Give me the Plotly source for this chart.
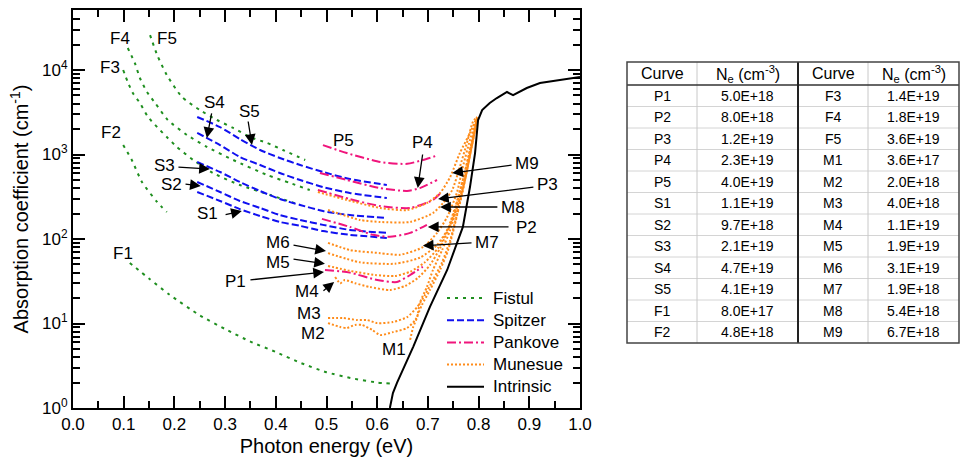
import math
import plotly.graph_objects as go

W, H = 962, 461
FONT = "Arial, 'Liberation Sans', sans-serif"

GREEN = "#1f8f1f"
BLUE = "#1010f0"
PINK = "#f0157c"
ORANGE = "#ff8c1a"

# ---------------- Fistul (photon energy eV, absorption cm^-1) ----------------
F1_E = [0.112, 0.15, 0.19, 0.25, 0.30, 0.35, 0.40, 0.45, 0.50, 0.55, 0.60, 0.625]
F1_a = [52, 34, 22, 12.5, 8.6, 6.1, 4.6, 3.4, 2.65, 2.25, 2.0, 1.95]
F2_E = [0.099, 0.116, 0.136, 0.166, 0.185]
F2_a = [1295, 861, 473, 274, 209]
F3_E = [0.099, 0.108, 0.118, 0.132, 0.148, 0.166, 0.185, 0.205, 0.237, 0.276, 0.329, 0.389, 0.448]
F3_a = [10000, 7210, 5340, 4070, 2780, 2110, 1610, 1230, 861, 604, 436, 332, 253]
F4_E = [0.108, 0.122, 0.132, 0.146, 0.162, 0.187, 0.225, 0.264, 0.316, 0.383, 0.428, 0.467]
F4_a = [18200, 12100, 8040, 5490, 4070, 2560, 1700, 1230, 861, 572, 460, 380]
F5_E = [0.152, 0.166, 0.185, 0.215, 0.25, 0.284, 0.316, 0.349, 0.383, 0.414, 0.458]
F5_a = [25900, 15060, 8730, 4790, 3360, 2560, 2060, 1610, 1370, 1130, 861]

# ---------------- Spitzer ----------------
S_E = [0.245, 0.29, 0.329, 0.369, 0.408, 0.448, 0.493, 0.546, 0.619]
S1_a = [360, 282, 226, 187, 159, 143, 124, 112, 103]
S2_a = [473, 360, 282, 233, 192, 168, 147, 128, 118]
S3_a = [815, 621, 473, 370, 297, 253, 214, 192, 177]
S4_a = [1800, 1295, 934, 751, 604, 499, 412, 350, 305]
S5_a = [2780, 2110, 1525, 1130, 910, 751, 621, 513, 436]

# ---------------- Pankove ----------------
P1_E = [0.497, 0.546, 0.60, 0.639, 0.665, 0.69]
P1_a = [43, 40, 32.7, 31, 37.5, 47]
P2_E = [0.491, 0.546, 0.592, 0.625, 0.665, 0.698]
P2_a = [173, 139, 112, 106, 118, 147]
P3_E = [0.483, 0.546, 0.606, 0.665, 0.71, 0.724]
P3_a = [380, 297, 245, 233, 290, 345]
P4_E = [0.487, 0.54, 0.606, 0.659, 0.684, 0.718]
P4_a = [604, 500, 400, 370, 400, 499]
P5_E = [0.493, 0.54, 0.606, 0.659, 0.69, 0.72]
P5_a = [1290, 1040, 815, 775, 860, 980]

# ---------------- Munesue ----------------
M1_E = [0.665, 0.671, 0.679, 0.684, 0.698, 0.71, 0.728, 0.744, 0.759, 0.773, 0.785, 0.795, 0.797]
M1_a = [6.4, 9.1, 11.9, 17.5, 27, 43, 74, 128, 253, 499, 1130, 2200, 2700]
M2_E = [0.503, 0.527, 0.54, 0.556, 0.57, 0.59, 0.606, 0.631, 0.659, 0.675, 0.688, 0.704,
        0.724, 0.74, 0.753, 0.767, 0.779, 0.789, 0.797]
M2_a = [10.1, 9.1, 8.85, 9.6, 9.6, 8.4, 7.3, 7.9, 8.85, 11, 16.5, 24.9, 43, 74, 147, 332,
        751, 1570, 2700]
M3_E = [0.503, 0.533, 0.56, 0.58, 0.60, 0.631, 0.659, 0.679, 0.694, 0.71, 0.728, 0.744,
        0.757, 0.771, 0.783, 0.793, 0.797]
M3_a = [11.6, 11.6, 11, 11, 10.1, 10.4, 11.9, 15.7, 21.7, 32.7, 53, 97, 192, 436, 986, 1950, 2700]
M4_E = [0.517, 0.527, 0.536, 0.556, 0.586, 0.625, 0.655, 0.68, 0.704, 0.724, 0.744, 0.759,
        0.773, 0.785, 0.797]
M4_a = [35.5, 30, 32.7, 30, 27, 24.9, 27.8, 34.5, 49, 78, 147, 290, 620, 1295, 2700]
M5_E = [0.503, 0.546, 0.596, 0.635, 0.665, 0.694, 0.72, 0.74, 0.755, 0.769, 0.783, 0.797]
M5_a = [48, 42, 37.5, 36.5, 41, 53, 78, 135, 253, 499, 1130, 2700]
M6_E = [0.503, 0.566, 0.635, 0.684, 0.718, 0.744, 0.759, 0.773, 0.785, 0.797]
M6_a = [68, 53, 51, 60, 85, 147, 253, 499, 1130, 2700]
M7_E = [0.503, 0.546, 0.606, 0.645, 0.69, 0.718, 0.738, 0.757, 0.769, 0.783, 0.797]
M7_a = [90, 74, 68, 65, 80, 118, 182, 350, 711, 1490, 2700]
M8_E = [0.503, 0.566, 0.606, 0.665, 0.71, 0.73, 0.748, 0.763, 0.777, 0.789, 0.797]
M8_a = [220, 168, 159, 159, 203, 267, 380, 711, 1370, 2450, 2780]
M9_E = [0.483, 0.54, 0.606, 0.659, 0.698, 0.724, 0.744, 0.763, 0.783, 0.797]
M9_a = [360, 290, 233, 220, 267, 350, 542, 1040, 1800, 2780]

# ---------------- Intrinsic ----------------
INT_E = [0.625, 0.631, 0.639, 0.671, 0.704, 0.738, 0.769, 0.783, 0.793, 0.799, 0.807,
         0.822, 0.836, 0.856, 0.868, 0.895, 0.921, 0.961, 1.0]
INT_a = [1.0, 1.5, 1.98, 5.3, 15.7, 43, 139, 412, 1040, 2560, 3360, 4070, 4660, 5490,
         5030, 6120, 7020, 7600, 8270]

# ---------------- table of carrier densities ----------------
tbl_header = ["Curve", "N<sub>e</sub> (cm<sup>-3</sup>)", "Curve", "N<sub>e</sub> (cm<sup>-3</sup>)"]
tbl_curve_left = ["P1", "P2", "P3", "P4", "P5", "S1", "S2", "S3", "S4", "S5", "F1", "F2"]
tbl_ne_left = ["5.0E+18", "8.0E+18", "1.2E+19", "2.3E+19", "4.0E+19", "1.1E+19",
               "9.7E+18", "2.1E+19", "4.7E+19", "4.1E+19", "8.0E+17", "4.8E+18"]
tbl_curve_right = ["F3", "F4", "F5", "M1", "M2", "M3", "M4", "M5", "M6", "M7", "M8", "M9"]
tbl_ne_right = ["1.4E+19", "1.8E+19", "3.6E+19", "3.6E+17", "2.0E+18", "4.0E+18",
                "1.1E+19", "1.9E+19", "3.1E+19", "1.9E+18", "5.4E+18", "6.7E+18"]

# legend entries
legend_names = ["Fistul", "Spitzer", "Pankove", "Munesue", "Intrinsic"]

# axis ticks
x_ticks = [0.0, 0.1, 0.2, 0.3, 0.4, 0.5, 0.6, 0.7, 0.8, 0.9, 1.0]
y_ticks = [1, 10, 100, 1000, 10000]
y_ticktext = ["10<sup>0</sup>", "10<sup>1</sup>", "10<sup>2</sup>", "10<sup>3</sup>", "10<sup>4</sup>"]
y_minor = [k * 10 ** d for d in range(0, 5) for k in range(2, 10)]

# curve labels: (text, energy, absorption)
labels = [
    ("F4", 0.093, 23900), ("F5", 0.185, 23900), ("F3", 0.073, 10560), ("F2", 0.075, 1845),
    ("F1", 0.099, 68), ("S4", 0.28, 4180), ("S5", 0.349, 3270), ("S3", 0.181, 751),
    ("S2", 0.195, 436), ("S1", 0.266, 203), ("P5", 0.533, 1445), ("P4", 0.69, 1370),
    ("M9", 0.895, 793), ("P3", 0.935, 436), ("M8", 0.868, 239), ("P2", 0.895, 135),
    ("M7", 0.817, 90), ("M6", 0.404, 90), ("M5", 0.404, 53), ("P1", 0.32, 31),
    ("M4", 0.462, 24.2), ("M3", 0.465, 13.3), ("M2", 0.473, 7.7), ("M1", 0.633, 4.86),
]
# pointer arrows: (tail energy, tail absorption, tip energy, tip absorption)
arrows = [
    (0.274, 3185, 0.264, 1567), (0.345, 2560, 0.353, 1295), (0.205, 711, 0.270, 673),
    (0.219, 448, 0.252, 424), (0.298, 192, 0.333, 214), (0.690, 1042, 0.680, 402),
    (0.868, 751, 0.748, 604), (0.911, 412, 0.720, 297), (0.840, 239, 0.724, 239),
    (0.862, 139, 0.700, 139), (0.789, 90, 0.690, 83), (0.432, 85, 0.499, 72),
    (0.432, 58, 0.497, 51), (0.347, 32.7, 0.495, 40.7), (0.491, 23.6, 0.515, 31),
]

FISTUL_DASH = "3px,5px"
SPITZER_DASH = "7px,3px"
PANKOVE_DASH = "9px,3px,2px,3px"
MUNESUE_DASH = "2px,2px"
legend_colors = [GREEN, BLUE, PINK, ORANGE, "black"]
legend_dashes = [FISTUL_DASH, SPITZER_DASH, PANKOVE_DASH, MUNESUE_DASH, "solid"]

fig = go.Figure()


def curve(E, a, color, dash, name, shape="spline"):
    fig.add_trace(go.Scatter(
        x=E, y=a, mode="lines", name=name, showlegend=False, hoverinfo="skip",
        line=dict(color=color, width=2, dash=dash, shape=shape,
                  smoothing=0.6 if shape == "spline" else None),
    ))


for E, a in [(F1_E, F1_a), (F2_E, F2_a), (F3_E, F3_a), (F4_E, F4_a), (F5_E, F5_a)]:
    curve(E, a, GREEN, FISTUL_DASH, "Fistul")
for a in [S1_a, S2_a, S3_a, S4_a, S5_a]:
    curve(S_E, a, BLUE, SPITZER_DASH, "Spitzer")
for E, a in [(P1_E, P1_a), (P2_E, P2_a), (P3_E, P3_a), (P4_E, P4_a), (P5_E, P5_a)]:
    curve(E, a, PINK, PANKOVE_DASH, "Pankove")
for E, a in [(M1_E, M1_a), (M2_E, M2_a), (M3_E, M3_a), (M4_E, M4_a), (M5_E, M5_a),
             (M6_E, M6_a), (M7_E, M7_a), (M8_E, M8_a), (M9_E, M9_a)]:
    curve(E, a, ORANGE, MUNESUE_DASH, "Munesue")
curve(INT_E, INT_a, "black", "solid", "Intrinsic", shape="linear")

annotations = []
for txt, e, a in labels:
    annotations.append(dict(x=e, y=math.log10(a), xref="x", yref="y", text=txt,
                            showarrow=False, font=dict(family=FONT, size=17, color="black"),
                            xanchor="center", yanchor="middle"))
for e0, a0, e1, a1 in arrows:
    annotations.append(dict(x=e1, y=math.log10(a1), ax=e0, ay=math.log10(a0),
                            xref="x", yref="y", axref="x", ayref="y", text="",
                            showarrow=True, arrowhead=2, arrowsize=1.65, arrowwidth=1.3,
                            arrowcolor="black", standoff=0, startstandoff=0))


# page pixel -> paper fraction (margins are zero, so paper == page)
def px(x):
    return x / W


def py(y):
    return 1 - y / H


shapes = []

# ---- legend block inside the plot ----
LEG_X0, LEG_X1, LEG_TX, LEG_Y0, LEG_DY = 447, 484, 491, 298, 22.2
for i, name in enumerate(legend_names):
    yy = py(LEG_Y0 + LEG_DY * i)
    shapes.append(dict(type="line", xref="paper", yref="paper", x0=px(LEG_X0), x1=px(LEG_X1),
                       y0=yy, y1=yy, line=dict(color=legend_colors[i], width=2,
                                               dash=legend_dashes[i])))
    annotations.append(dict(x=px(LEG_TX), y=yy, xref="paper", yref="paper", text=name,
                            showarrow=False, xanchor="left", yanchor="middle",
                            font=dict(family=FONT, size=17, color="black")))

# ---- table ----
TX = [627, 697, 798, 868, 959]
TY0, TY_HEAD, ROW_H = 62, 85, 21.5
n_rows = len(tbl_curve_left)
TY1 = TY_HEAD + ROW_H * n_rows

for i in range(1, n_rows):
    yy = TY_HEAD + ROW_H * i
    shapes.append(dict(type="line", xref="paper", yref="paper", x0=px(TX[0]), x1=px(TX[-1]),
                       y0=py(yy), y1=py(yy), line=dict(color="#d4d4d4", width=1)))
for xx in (TX[1], TX[3]):
    shapes.append(dict(type="line", xref="paper", yref="paper", x0=px(xx), x1=px(xx),
                       y0=py(TY0), y1=py(TY1), line=dict(color="#c8c8c8", width=1)))
shapes.append(dict(type="line", xref="paper", yref="paper", x0=px(TX[0]), x1=px(TX[-1]),
                   y0=py(TY_HEAD), y1=py(TY_HEAD), line=dict(color="#333333", width=1.5)))
shapes.append(dict(type="line", xref="paper", yref="paper", x0=px(TX[2]), x1=px(TX[2]),
                   y0=py(TY0), y1=py(TY1), line=dict(color="#222222", width=2)))
shapes.append(dict(type="rect", xref="paper", yref="paper", x0=px(TX[0]), x1=px(TX[-1]),
                   y0=py(TY0), y1=py(TY1), line=dict(color="#444444", width=1.5)))

col_centers = [(TX[i] + TX[i + 1]) / 2 for i in range(4)]
for j, h in enumerate(tbl_header):
    annotations.append(dict(x=px(col_centers[j]), y=py((TY0 + TY_HEAD) / 2), xref="paper",
                            yref="paper", text=h, showarrow=False, xanchor="center",
                            yanchor="middle", font=dict(family=FONT, size=16, color="black")))
for i in range(n_rows):
    yc = py(TY_HEAD + ROW_H * (i + 0.5))
    for j, col in enumerate([tbl_curve_left, tbl_ne_left, tbl_curve_right, tbl_ne_right]):
        annotations.append(dict(x=px(col_centers[j]), y=yc, xref="paper", yref="paper",
                                text=col[i], showarrow=False, xanchor="center",
                                yanchor="middle", font=dict(family=FONT, size=14, color="black")))

PL, PR, PT, PB = 73, 580, 10, 408
fig.update_layout(
    template="none",
    width=W, height=H,
    margin=dict(l=0, r=0, t=0, b=0, pad=0),
    paper_bgcolor="white", plot_bgcolor="white",
    font=dict(family=FONT, size=17, color="black"),
    showlegend=False,
    xaxis=dict(
        domain=[px(PL), px(PR)], range=[0, 1], automargin=False,
        tickmode="array", tickvals=x_ticks, ticktext=[f"{v:.1f}" for v in x_ticks],
        ticks="inside", ticklen=12, tickwidth=2, tickcolor="black",
        minor=dict(ticks="inside", ticklen=7, tickwidth=2, tickcolor="black", dtick=0.05,
                   tick0=0, showgrid=False),
        showline=True, linewidth=2, linecolor="black", mirror="allticks",
        showgrid=False, zeroline=False,
        tickfont=dict(family=FONT, size=17),
        title=dict(text="Photon energy (eV)", font=dict(family=FONT, size=20), standoff=6),
    ),
    yaxis=dict(
        domain=[py(PB), py(PT)], type="log", range=[0, 4.71], automargin=False,
        tickmode="array", tickvals=y_ticks, ticktext=y_ticktext,
        ticks="inside", ticklen=12, tickwidth=2, tickcolor="black",
        minor=dict(ticks="inside", ticklen=7, tickwidth=1.5, tickcolor="black",
                   tickmode="array", tickvals=y_minor, showgrid=False),
        showline=True, linewidth=2, linecolor="black", mirror="allticks",
        showgrid=False, zeroline=False,
        tickfont=dict(family=FONT, size=17),
        title=dict(text="Absorption coefficient (cm<sup>-1</sup>)",
                   font=dict(family=FONT, size=20), standoff=8),
    ),
    annotations=annotations,
    shapes=shapes,
)

fig.write_html("out.html")
